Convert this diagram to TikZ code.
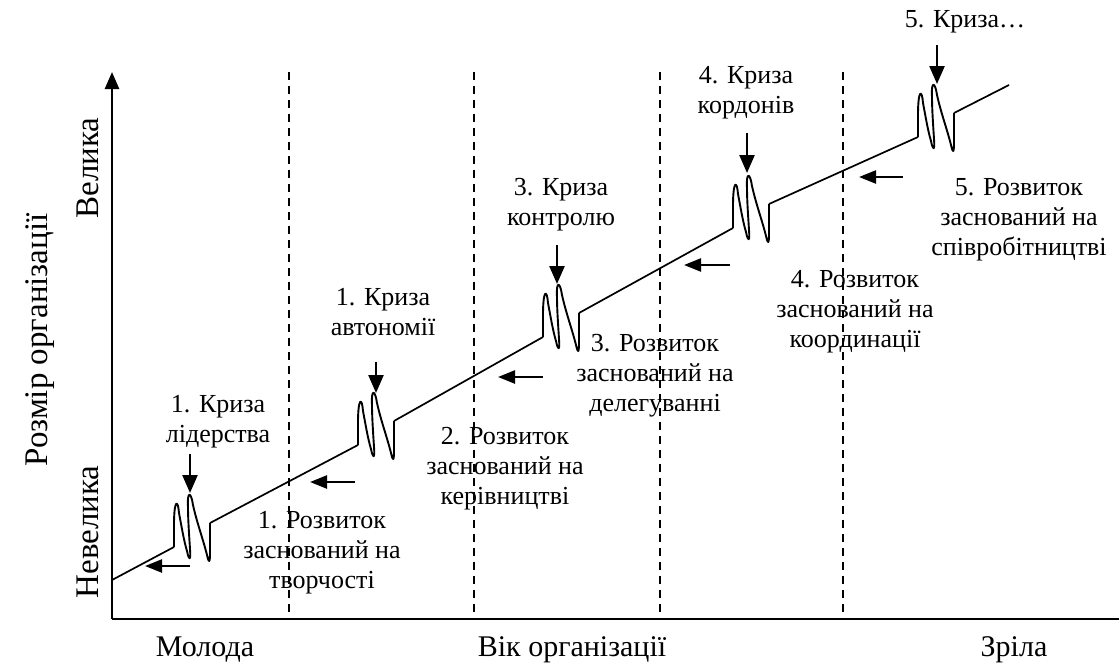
\documentclass[tikz,border=0pt]{standalone}
\usepackage{fontspec}
\setmainfont{Liberation Serif}
\usetikzlibrary{arrows.meta}
\begin{document}
\begin{tikzpicture}[x=1pt,y=-1pt,
  lbl/.style={font=\fontsize{26}{30}\selectfont,align=center,inner sep=0pt},
  axlbl/.style={font=\fontsize{30}{34}\selectfont,inner sep=0pt},
  vlbl/.style={font=\fontsize{33}{36}\selectfont,inner sep=0pt,rotate=90},
  curve/.style={line width=1.7pt,line join=round},
  zig/.style={line width=1.9pt,line join=round},
  arr/.style={line width=2.4pt,-{Triangle[width=15pt,length=18pt]}},
  larr/.style={line width=2.4pt,-{Triangle[width=13pt,length=17pt]}},
  sep/.style={line width=1.5pt,dash pattern=on 8pt off 6pt},
  crisis/.pic={\draw[zig] (0,0) -- (0,-22) .. controls (0,-48) and (4,-48) .. (5,-34) .. controls (8,-18) and (10,-6) .. (13,4) .. controls (15,14) and (17,14) .. (16,2) .. controls (15,-14) and (14,-28) .. (14,-40) .. controls (13,-56) and (17,-56) .. (19,-42) .. controls (23,-24) and (29,-8) .. (33,8) .. controls (35,17) and (36,16) .. (36,5) -- (36,-24);}
]
\useasboundingbox (0,0) rectangle (1119,667);
% axes
\coordinate (O) at (112,619);
\coordinate (Ytop) at (112,72);
\coordinate (Xend) at (1119,619);
\draw[line width=2.6pt,-{Triangle[width=14pt,length=17pt]}] (O) -- (Ytop);
\draw[line width=2pt] (O) -- (Xend);
% dashed separators
\foreach \x/\n in {289/d1,474/d2,660/d3,843/d4}{
  \coordinate (\n t) at (\x,72);
  \coordinate (\n b) at (\x,619);
  \draw[sep] (\n t) -- (\n b);
}
% growth curve
\coordinate (c0) at (112,580);
\coordinate (s1) at (174,547);
\coordinate (s2) at (358,445);
\coordinate (s3) at (543,337);
\coordinate (s4) at (733,228);
\coordinate (s5) at (918,137);
\coordinate (cend) at (1009,85);
\draw[curve] (c0) -- (s1);
\draw[curve] ([shift={(36,-24)}]s1) -- (s2);
\draw[curve] ([shift={(36,-24)}]s2) -- (s3);
\draw[curve] ([shift={(36,-24)}]s3) -- (s4);
\draw[curve] ([shift={(36,-24)}]s4) -- (s5);
\draw[curve] ([shift={(36,-24)}]s5) -- (cend);
\foreach \s in {s1,s2,s3,s4,s5}{\pic at (\s) {crisis};}
% crisis arrows
\foreach \n/\x/\a/\b in {k1/190/454/493,k2/376/362/393,k3/557/245/284,k4/747/133/173,k5/937/45/84}{
  \coordinate (\n a) at (\x,\a);
  \coordinate (\n b) at (\x,\b);
  \draw[arr] (\n a) -- (\n b);
}
% development arrows
\foreach \n/\xa/\xb/\y in {r1/190/145/566,r2/355/310/482,r3/543/498/377,r4/730/684/265,r5/903/859/177}{
  \coordinate (\n a) at (\xa,\y);
  \coordinate (\n b) at (\xb,\y);
  \draw[larr] (\n a) -- (\n b);
}
% crisis labels
\node[lbl] (t1) at (218,422) {1. Криза\\лідерства};
\node[lbl] (t2) at (383,312) {1. Криза\\автономії};
\node[lbl] (t3) at (561,205) {3. Криза\\контролю};
\node[lbl] (t4) at (746,93) {4. Криза\\кордонів};
\node[lbl] (t5) at (965,22) {5. Криза…};
% development labels
\node[lbl] (g1) at (322,553) {1. Розвиток\\заснований на\\творчості};
\node[lbl] (g2) at (505,469) {2. Розвиток\\заснований на\\керівництві};
\node[lbl] (g3) at (655,376) {3. Розвиток\\заснований на\\делегуванні};
\node[lbl] (g4) at (855,312) {4. Розвиток\\заснований на\\координації};
\node[lbl] (g5) at (1019,220) {5. Розвиток\\заснований на\\співробітництві};
% axis labels
\node[axlbl] (m) at (205,650) {Молода};
\node[axlbl] (v) at (572,650) {Вік організації};
\node[axlbl] (z) at (1014,650) {Зріла};
\node[vlbl] (r) at (40,340) {Розмір організації};
\node[vlbl] (bg) at (88,168) {Велика};
\node[vlbl] (sm) at (88,532) {Невелика};
\end{tikzpicture}
\end{document}
